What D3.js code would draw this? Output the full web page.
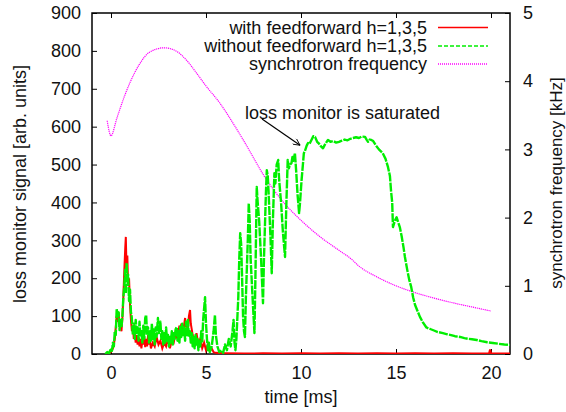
<!DOCTYPE html>
<html>
<head>
<meta charset="utf-8">
<script src="https://cdn.jsdelivr.net/npm/d3@7"></script>
<style>
  body { margin: 0; background: #fff; }
  text { font-family: "Liberation Sans", Arial, Helvetica, sans-serif; }
</style>
</head>
<body>
<div class="chart"></div>
<script>
// loss monitor signal, feedforward on (red) -- [time ms, signal]
var withFF = [
  [-0.2,0],[0.0,5],[0.1,15],[0.2,40],[0.3,100],[0.35,85],[0.4,110],[0.45,70],[0.5,80],[0.55,60],
  [0.6,95],[0.65,150],[0.7,220],[0.75,280],[0.78,309],[0.82,220],[0.86,260],[0.9,180],[0.95,200],
  [1.0,130],[1.05,90],[1.1,60],[1.15,75],[1.2,40],[1.25,55],[1.3,30],[1.35,50],[1.4,25],[1.45,45],
  [1.5,20],[1.55,40],[1.6,15],[1.65,35],[1.7,25],[1.75,45],[1.8,18],[1.85,40],[1.9,20],[1.95,50],
  [2.0,25],[2.05,35],[2.1,15],[2.2,30],[2.3,20],[2.4,45],[2.5,25],[2.6,35],[2.7,15],[2.8,30],
  [2.9,20],[3.0,40],[3.1,15],[3.2,35],[3.3,30],[3.4,55],[3.5,40],[3.6,75],[3.65,50],[3.7,80],
  [3.8,60],[3.9,95],[3.95,70],[4.0,85],[4.05,65],[4.1,100],[4.16,116],[4.2,80],[4.3,50],[4.4,30],
  [4.5,55],[4.6,25],[4.7,40],[4.8,15],[4.9,30],[5.0,10],[5.1,25],[5.2,8],[5.3,15],[5.4,5],
  [5.5,3],[6.0,2],[7.0,1],[8.0,2],[9.0,1],[10.0,2],[11.0,1],[12.0,2],[13.0,1],[14.0,2],
  [15.0,1],[16.0,2],[17.0,1],[18.0,2],[19.0,1],[19.9,2],[19.95,12],[20.0,2],[21.0,1]
];

// loss monitor signal, feedforward off (green)
var withoutFF = [
  [-0.3,0],[-0.2,5],[-0.1,2],[0.0,15],[0.05,8],[0.1,30],[0.15,20],[0.2,60],[0.25,50],[0.3,120],
  [0.35,95],[0.4,110],[0.45,63],[0.5,90],[0.55,70],[0.6,100],[0.65,150],[0.7,180],[0.74,222],[0.78,160],
  [0.82,240],[0.86,200],[0.9,210],[0.95,140],[1.0,170],[1.05,110],[1.09,98],[1.15,50],[1.2,80],[1.25,40],
  [1.3,90],[1.35,55],[1.4,70],[1.45,35],[1.5,85],[1.55,45],[1.6,60],[1.65,30],[1.7,75],[1.75,40],
  [1.8,95],[1.85,103],[1.9,50],[1.95,70],[2.0,30],[2.05,60],[2.1,35],[2.15,80],[2.2,40],[2.25,65],
  [2.3,25],[2.35,70],[2.4,45],[2.47,95],[2.52,55],[2.6,85],[2.65,40],[2.7,60],[2.75,25],[2.8,55],
  [2.85,30],[2.9,70],[2.95,35],[3.0,50],[3.05,20],[3.1,45],[3.15,30],[3.2,60],[3.25,25],[3.3,55],
  [3.35,40],[3.4,65],[3.46,71],[3.5,35],[3.55,60],[3.6,30],[3.65,75],[3.7,45],[3.75,80],[3.8,50],
  [3.85,70],[3.9,35],[3.95,85],[4.0,50],[4.05,90],[4.1,45],[4.15,60],[4.2,30],[4.25,55],[4.3,20],
  [4.35,45],[4.4,15],[4.45,50],[4.5,25],[4.55,40],[4.6,10],[4.65,35],[4.7,20],[4.75,60],[4.8,30],
  [4.85,90],[4.9,120],[4.95,150],[5.0,80],[5.05,40],[5.1,10],[5.15,30],[5.2,5],[5.3,20],[5.4,60],
  [5.47,103],[5.52,50],[5.6,20],[5.7,5],[5.8,10],[5.9,3],[6.0,25],[6.1,10],[6.2,40],[6.3,20],
  [6.4,63],[6.45,90],[6.5,30],[6.55,10],[6.6,40],[6.7,150],[6.75,250],[6.8,319],[6.85,290],[6.9,200],
  [6.95,100],[7.0,60],[7.05,45],[7.1,150],[7.2,300],[7.25,398],[7.3,350],[7.35,250],[7.45,150],[7.55,55],
  [7.6,200],[7.67,441],[7.72,400],[7.8,350],[7.9,250],[8.0,134],[8.05,250],[8.15,420],[8.2,485],[8.25,470],
  [8.3,420],[8.4,300],[8.46,213],[8.52,350],[8.6,477],[8.65,450],[8.72,500],[8.8,512],[8.85,460],[8.95,400],
  [9.05,320],[9.16,256],[9.22,380],[9.3,512],[9.36,490],[9.42,500],[9.5,504],[9.55,520],[9.6,510],[9.68,530],
  [9.75,480],[9.82,420],[9.9,372],[9.95,400],[10.03,459],[10.1,500],[10.15,530],[10.2,535],[10.3,550],[10.37,557],
  [10.45,555],[10.55,565],[10.65,575],[10.74,573],[10.85,560],[10.95,555],[11.05,548],[11.16,543],[11.25,552],[11.35,560],
  [11.42,565],[11.55,560],[11.7,562],[11.85,558],[12.0,560],[12.15,563],[12.3,566],[12.45,564],[12.6,568],[12.74,570],
  [12.9,572],[13.05,570],[13.2,574],[13.37,573],[13.45,566],[13.53,560],[13.62,566],[13.7,565],[13.8,562],[13.95,550],
  [14.1,540],[14.3,530],[14.45,515],[14.58,493],[14.68,470],[14.74,430],[14.8,400],[14.84,335],[14.9,345],[14.97,355],
  [15.03,361],[15.1,350],[15.2,335],[15.3,310],[15.4,280],[15.47,256],[15.6,220],[15.7,195],[15.8,177],[15.9,150],
  [16.0,130],[16.16,110],[16.26,98],[16.4,85],[16.6,70],[16.8,66],[17.0,62],[17.2,58],[17.47,55],[17.7,52],
  [17.9,50],[18.1,47],[18.37,45],[18.6,42],[18.8,40],[19.0,39],[19.25,37],[19.5,34],[19.8,31],[20.1,29],
  [20.4,27],[20.7,25],[21.0,24]
];

// synchrotron frequency [kHz]
var syncTime = [-0.2, 0, 0.3, 0.63, 1.0, 1.5, 2.0, 2.8, 3.5, 4.0, 4.5, 5.0, 5.7, 6.5, 7.0, 8.2, 9.0, 10, 11, 12, 12.7, 13, 14, 15, 16, 17, 18, 19, 20];
var syncFreq = [3.42, 3.2, 3.45, 3.72, 3.98, 4.25, 4.42, 4.49, 4.43, 4.3, 4.12, 3.93, 3.69, 3.35, 3.12, 2.55, 2.25, 1.96, 1.72, 1.52, 1.38, 1.3, 1.13, 1.0, 0.9, 0.82, 0.75, 0.69, 0.63];

var xTicks = [0, 5, 10, 15, 20];
var yTicks = [0, 100, 200, 300, 400, 500, 600, 700, 800, 900];
var y2Ticks = [0, 1, 2, 3, 4, 5];

var legendLabels = [`with feedforward h=1,3,5`, `without feedforward h=1,3,5`, `synchrotron frequency`];

var margin = {top: 13, bottom: 58, left: 92, right: 56};
var fullWidth = 566, fullHeight = 412;
var width = fullWidth - margin.left - margin.right;
var height = fullHeight - margin.top - margin.bottom;

var svg = d3.select(`.chart`)
    .append(`svg`)
    .attr(`width`, fullWidth)
    .attr(`height`, fullHeight)
    .append(`g`)
    .attr(`transform`, `translate(${margin.left},${margin.top})`);

var xScale = d3.scaleLinear().domain([-1, 21]).range([0, width]);
var yScale = d3.scaleLinear().domain([0, 900]).range([height, 0]);
var y2Scale = d3.scaleLinear().domain([0, 5]).range([height, 0]);

svg.append(`defs`).append(`clipPath`).attr(`id`, `clip`)
    .append(`rect`).attr(`width`, width).attr(`height`, height);
svg.select(`defs`).append(`marker`)
    .attr(`id`, `arrow`).attr(`viewBox`, `0 0 10 10`)
    .attr(`refX`, 10).attr(`refY`, 5)
    .attr(`markerWidth`, 9).attr(`markerHeight`, 7)
    .attr(`markerUnits`, `userSpaceOnUse`)
    .attr(`orient`, `auto`)
    .append(`path`).attr(`d`, `M0,0 L10,5 L0,10`).attr(`fill`, `none`).attr(`stroke`, `black`).attr(`stroke-width`, 1.2);

// axes, ticks pointing inward as in gnuplot
function styleAxis(g) {
    g.select(`.domain`).remove();
    g.selectAll(`text`).style(`font-size`, `18px`).style(`fill`, `#111`);
    g.selectAll(`line`).style(`stroke`, `#000`);
}
svg.append(`g`).attr(`transform`, `translate(0,${height})`)
    .call(d3.axisBottom(xScale).tickValues(xTicks).tickSize(-5).tickPadding(12))
    .call(styleAxis);
svg.append(`g`)
    .call(d3.axisTop(xScale).tickValues(xTicks).tickSize(-5).tickFormat(``))
    .call(styleAxis);
svg.append(`g`)
    .call(d3.axisLeft(yScale).tickValues(yTicks).tickSize(-5).tickPadding(11))
    .call(styleAxis);
svg.append(`g`).attr(`transform`, `translate(${width},0)`)
    .call(d3.axisRight(y2Scale).tickValues(y2Ticks).tickSize(-5).tickPadding(13).tickFormat(d3.format(`d`)))
    .call(styleAxis);

svg.append(`rect`).attr(`width`, width).attr(`height`, height)
    .attr(`fill`, `none`).attr(`stroke`, `#000`).attr(`stroke-width`, 1.5);

var plot = svg.append(`g`).attr(`clip-path`, `url(#clip)`);

var sigLine = d3.line().x(d => xScale(d[0])).y(d => yScale(d[1]));
var syncLine = d3.line().x((d, i) => xScale(syncTime[i])).y(d => y2Scale(d)).curve(d3.curveMonotoneX);

plot.append(`path`).datum(syncFreq).attr(`d`, syncLine)
    .attr(`fill`, `none`).attr(`stroke`, `#ff00ff`).attr(`stroke-width`, 1.2).attr(`stroke-dasharray`, `1.2,0.8`);
plot.append(`path`).datum(withFF).attr(`d`, sigLine)
    .attr(`fill`, `none`).attr(`stroke`, `#ff0000`).attr(`stroke-width`, 2);
plot.append(`path`).datum(withoutFF).attr(`d`, sigLine)
    .attr(`fill`, `none`).attr(`stroke`, `#00ee00`).attr(`stroke-width`, 2.4).attr(`stroke-dasharray`, `9,1.2`)
    .attr(`stroke-linejoin`, `round`);

// legend
var legendY = [14.5, 33, 51];
var legendStyles = [
    {color: `#ff0000`, dash: null, w: 1.5},
    {color: `#00ee00`, dash: `4,2`, w: 1.5},
    {color: `#ff00ff`, dash: `1,1`, w: 1.5}
];
var legend = svg.selectAll(`.legend`).data(legendLabels).enter().append(`g`)
    .attr(`class`, `legend`)
    .attr(`transform`, (d, i) => `translate(0,${legendY[i]})`);
legend.append(`text`).attr(`x`, 335).attr(`dy`, `0.35em`)
    .style(`text-anchor`, `end`).style(`font-size`, `18px`).style(`fill`, `#111`)
    .text(d => d);
legend.append(`line`).attr(`x1`, 346).attr(`x2`, 396)
    .attr(`stroke`, (d, i) => legendStyles[i].color)
    .attr(`stroke-width`, (d, i) => legendStyles[i].w)
    .attr(`stroke-dasharray`, (d, i) => legendStyles[i].dash);

// annotation
svg.append(`text`).attr(`x`, xScale(7.05)).attr(`y`, yScale(638)).attr(`dy`, `0.35em`)
    .style(`font-size`, `18px`).style(`fill`, `#111`)
    .text(`loss monitor is saturated`);
svg.append(`line`)
    .attr(`x1`, xScale(7.95)).attr(`y1`, yScale(620))
    .attr(`x2`, xScale(9.95)).attr(`y2`, yScale(551))
    .attr(`stroke`, `#000`).attr(`stroke-width`, 1.2).attr(`marker-end`, `url(#arrow)`);

// axis titles
svg.append(`text`).attr(`transform`, `translate(${20 - margin.left},${184 - margin.top}) rotate(-90)`)
    .attr(`dy`, `0.35em`).style(`text-anchor`, `middle`).style(`font-size`, `18px`).style(`fill`, `#111`)
    .text(`loss monitor signal [arb. units]`);
svg.append(`text`).attr(`transform`, `translate(${556 - margin.left},${183 - margin.top}) rotate(-90)`)
    .attr(`dy`, `0.35em`).style(`text-anchor`, `middle`).style(`font-size`, `17px`).style(`fill`, `#111`)
    .text(`synchrotron frequency [kHz]`);
svg.append(`text`).attr(`x`, xScale(10)).attr(`y`, 397 - margin.top).attr(`dy`, `0.35em`)
    .style(`text-anchor`, `middle`).style(`font-size`, `18px`).style(`fill`, `#111`)
    .text(`time [ms]`);
</script>
</body>
</html>
